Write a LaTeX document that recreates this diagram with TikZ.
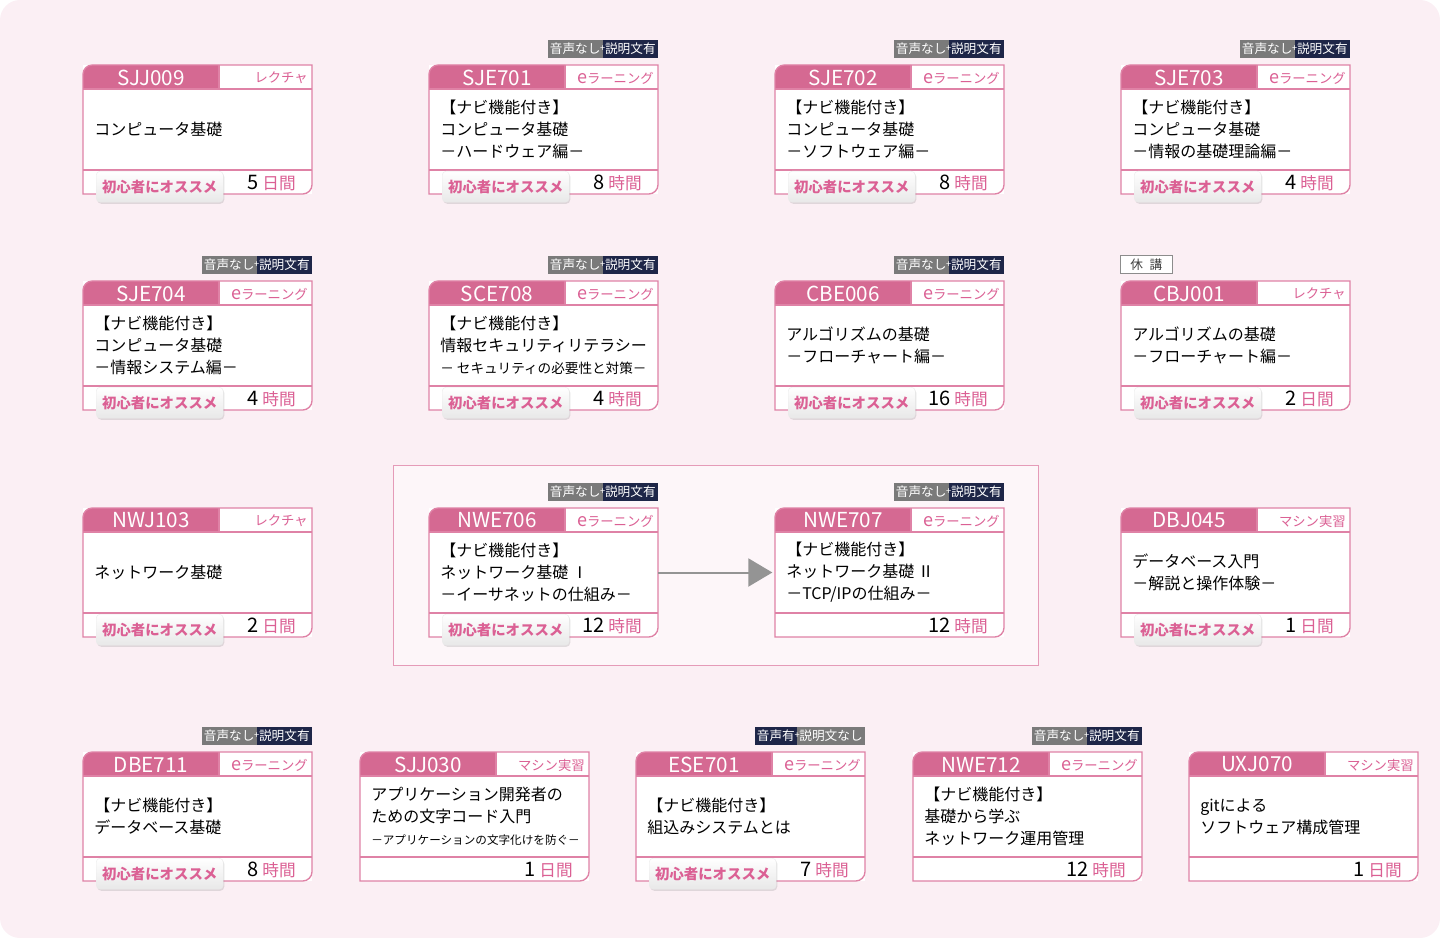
\documentclass[tikz,border=0pt]{standalone}
\usepackage{fontspec}
\setmainfont{Noto Sans CJK JP}
\usepackage{xcolor}
\usetikzlibrary{
    arrows.meta,
    positioning,
    calc,
    shadows
}

\definecolor{bgpink}{RGB}{251,239,244}
\definecolor{headpink}{RGB}{213,105,146}
\definecolor{linepink}{RGB}{223,130,166}
\definecolor{textpink}{RGB}{219,96,148}
\definecolor{tagnavy}{RGB}{30,38,72}
\definecolor{taggray}{RGB}{122,122,122}

\newcommand\elearnlabel{{\fontsize{13.5}{12}\selectfont e}ラーニング}

\newcommand\coursecard[8]{%
  \node[cardbox] (#1) at (#2,#3) {};
  \fill[white] (#2,#3) rectangle (#2+229,#3+129);
  \fill[headpink] (#2+136,#3+24) -- (#2,#3+24) [rounded corners=7pt] -- (#2,#3) [sharp corners] -- (#2+136,#3) -- cycle;
  \draw[cardline] (#2,#3+60) [rounded corners=7pt] -- (#2,#3) [sharp corners] -- (#2+229,#3) [rounded corners=7pt] -- (#2+229,#3+129) [sharp corners] -- (#2,#3+129) -- cycle;
  \draw[cardline] (#2,#3+24) -- (#2+229,#3+24);
  \draw[cardline] (#2+136,#3) -- (#2+136,#3+24);
  \draw[cardline] (#2,#3+105) -- (#2+229,#3+105);
  \node[codetext] (#1-id) at (#2+68,#3+12.5) {#4};
  \node[kindtext] (#1-kind) at (#2+225,#3+13) {#5};
  \node[titletext] (#1-title) at (#2+11,#3+64.5) {#6};
  \node[timetext] (#1-time) at (#2+213,#3+118) {#7\hspace{2.5pt}{\color{textpink}\fontsize{12.5}{13}\selectfont #8}};
}

\begin{document}
\begin{tikzpicture}[
    x=0.75pt, y=-0.75pt,
    cardbox/.style={
        minimum width=171.75pt,
        minimum height=96.75pt,
        inner sep=0pt, outer sep=0pt,
        anchor=north west
    },
    cardline/.style={draw=linepink, line width=1pt},
    codetext/.style={text=white, inner sep=0pt, font=\fontsize{15.5}{15}\selectfont},
    kindtext/.style={text=textpink, anchor=east, inner sep=0pt, font=\fontsize{10}{10}\selectfont},
    titletext/.style={align=left, anchor=west, inner sep=0pt, font=\fontsize{12}{16.5}\selectfont},
    timetext/.style={anchor=east, inner sep=0pt, font=\fontsize{15}{15}\selectfont},
    recommend/.style={
        anchor=north west,
        minimum width=95.25pt, minimum height=23.25pt,
        inner sep=0pt, rounded corners=3pt,
        top color=white, bottom color=black!9,
        draw=black!8, line width=0.3pt,
        drop shadow={shadow xshift=0.8pt, shadow yshift=-1.2pt, opacity=0.22},
        text=textpink, font=\fontsize{10.8}{11}\selectfont\bfseries
    },
    navytag/.style={fill=tagnavy, text=white, inner xsep=1.5pt, inner ysep=0pt,
        minimum height=13.5pt, font=\fontsize{9.5}{10}\selectfont},
    graytag/.style={fill=taggray, text=white, inner xsep=1.5pt, inner ysep=0pt,
        minimum height=13.5pt, font=\fontsize{9.5}{10}\selectfont},
    plussign/.style={text=white, inner sep=0pt, font=\fontsize{7}{7}\selectfont},
    closedtag/.style={fill=white, draw=black!45, line width=0.6pt, text=black!75,
        minimum width=39pt, inner ysep=0pt, minimum height=13.5pt, font=\fontsize{9.5}{10}\selectfont},
    flowarrow/.style={draw=black!42, line width=1.5pt, -{Triangle[length=18pt, width=21pt]}, shorten >=2pt}
]

\useasboundingbox (0,0) rectangle (1440,938);
\fill[bgpink, rounded corners=15pt] (0,0) rectangle (1440,938);
\filldraw[fill=bgpink!55!white, draw=linepink!80, line width=0.75pt] (393,465) rectangle (1038,665);

\coursecard{sjj009}{83}{65}{SJJ009}{レクチャ}{コンピュータ基礎}{5}{日間}
\coursecard{sje701}{429}{65}{SJE701}{\elearnlabel}{【ナビ機能付き】\\コンピュータ基礎\\－ハードウェア編－}{8}{時間}
\coursecard{sje702}{775}{65}{SJE702}{\elearnlabel}{【ナビ機能付き】\\コンピュータ基礎\\－ソフトウェア編－}{8}{時間}
\coursecard{sje703}{1121}{65}{SJE703}{\elearnlabel}{【ナビ機能付き】\\コンピュータ基礎\\－情報の基礎理論編－}{4}{時間}

\coursecard{sje704}{83}{281}{SJE704}{\elearnlabel}{【ナビ機能付き】\\コンピュータ基礎\\－情報システム編－}{4}{時間}
\coursecard{sce708}{429}{281}{SCE708}{\elearnlabel}{【ナビ機能付き】\\情報セキュリティリテラシー\\{\fontsize{10.2}{16.5}\selectfont － セキュリティの必要性と対策－}}{4}{時間}
\coursecard{cbe006}{775}{281}{CBE006}{\elearnlabel}{アルゴリズムの基礎\\－フローチャート編－}{16}{時間}
\coursecard{cbj001}{1121}{281}{CBJ001}{レクチャ}{アルゴリズムの基礎\\－フローチャート編－}{2}{日間}

\coursecard{nwj103}{83}{508}{NWJ103}{レクチャ}{ネットワーク基礎}{2}{日間}
\coursecard{nwe706}{429}{508}{NWE706}{\elearnlabel}{【ナビ機能付き】\\ネットワーク基礎 Ⅰ\\－イーサネットの仕組み－}{12}{時間}
\coursecard{nwe707}{775}{508}{NWE707}{\elearnlabel}{【ナビ機能付き】\\ネットワーク基礎 Ⅱ\\－TCP/IPの仕組み－}{12}{時間}
\coursecard{dbj045}{1121}{508}{DBJ045}{マシン実習}{データベース入門\\－解説と操作体験－}{1}{日間}

\coursecard{dbe711}{83}{752}{DBE711}{\elearnlabel}{【ナビ機能付き】\\データベース基礎}{8}{時間}
\coursecard{sjj030}{360}{752}{SJJ030}{マシン実習}{アプリケーション開発者の\\ための文字コード入門\\{\fontsize{8.7}{15}\selectfont －アプリケーションの文字化けを防ぐ－}}{1}{日間}
\coursecard{ese701}{636}{752}{ESE701}{\elearnlabel}{【ナビ機能付き】\\組込みシステムとは}{7}{時間}
\coursecard{nwe712}{913}{752}{NWE712}{\elearnlabel}{【ナビ機能付き】\\基礎から学ぶ\\ネットワーク運用管理}{12}{時間}
\coursecard{uxj070}{1189}{752}{UXJ070}{マシン実習}{gitによる\\ソフトウェア構成管理}{1}{日間}

\node[recommend] (sjj009-rec) at ($(sjj009.south west)+(13,-23)$) {初心者にオススメ};
\node[recommend] (sje701-rec) at ($(sje701.south west)+(13,-23)$) {初心者にオススメ};
\node[recommend] (sje702-rec) at ($(sje702.south west)+(13,-23)$) {初心者にオススメ};
\node[recommend] (sje703-rec) at ($(sje703.south west)+(13,-23)$) {初心者にオススメ};
\node[recommend] (sje704-rec) at ($(sje704.south west)+(13,-23)$) {初心者にオススメ};
\node[recommend] (sce708-rec) at ($(sce708.south west)+(13,-23)$) {初心者にオススメ};
\node[recommend] (cbe006-rec) at ($(cbe006.south west)+(13,-23)$) {初心者にオススメ};
\node[recommend] (cbj001-rec) at ($(cbj001.south west)+(13,-23)$) {初心者にオススメ};
\node[recommend] (nwj103-rec) at ($(nwj103.south west)+(13,-23)$) {初心者にオススメ};
\node[recommend] (nwe706-rec) at ($(nwe706.south west)+(13,-23)$) {初心者にオススメ};
\node[recommend] (dbj045-rec) at ($(dbj045.south west)+(13,-23)$) {初心者にオススメ};
\node[recommend] (dbe711-rec) at ($(dbe711.south west)+(13,-23)$) {初心者にオススメ};
\node[recommend] (ese701-rec) at ($(ese701.south west)+(13,-23)$) {初心者にオススメ};

\foreach \c in {sje701,sje702,sje703,sje704,sce708,cbe006,nwe706,nwe707,dbe711,nwe712}{
  \node[navytag, above left=5.25pt and 0pt of \c.north east] (\c-txt) {説明文有};
  \node[graytag, left=0pt of \c-txt] (\c-snd) {音声なし};
  \node[plussign] (\c-plus) at (\c-txt.west) {+};
}

\node[graytag, above left=5.25pt and 0pt of ese701.north east] (ese701-txt) {説明文なし};
\node[navytag, left=0pt of ese701-txt] (ese701-snd) {音声有};
\node[plussign] (ese701-plus) at (ese701-txt.west) {+};

\node[closedtag, above right=5.25pt and -0.75pt of cbj001.north west] (cbj001-off) {休\hspace{5pt}講};

\draw[flowarrow] (nwe706) -- (nwe707);

\end{tikzpicture}
\end{document}
